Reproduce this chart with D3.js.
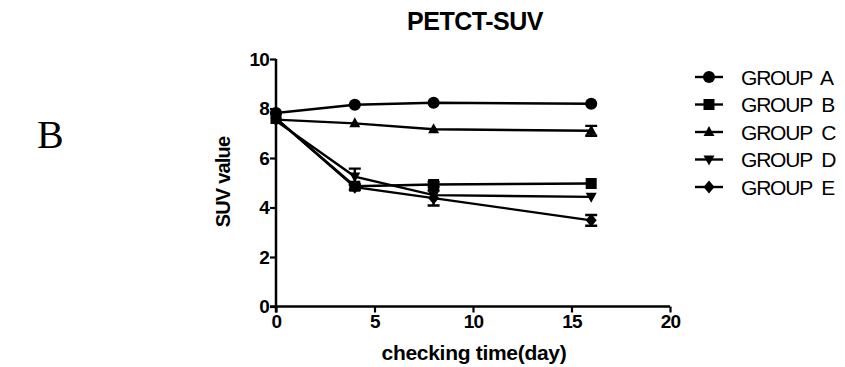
<!DOCTYPE html>
<html>
<head>
<meta charset="utf-8">
<script src="https://cdn.jsdelivr.net/npm/d3@7"></script>
<style>
  body { margin: 0; background: #fff; }
  text { font-family: "Liberation Sans", Arial, sans-serif; fill: #000; }
</style>
</head>
<body>
<script>
// data
var days = [0, 4, 8, 16];
var groups = ["GROUP A", "GROUP B", "GROUP C", "GROUP D", "GROUP E"];
var meanA = [7.82, 8.15, 8.23, 8.19];
var meanB = [7.6, 4.86, 4.93, 4.97];
var meanC = [7.55, 7.4, 7.16, 7.1];
var meanD = [7.5, 5.25, 4.5, 4.43];
var meanE = [7.6, 4.82, 4.38, 3.48];
var errA = [0.05, 0.05, 0.05, 0.05];
var errB = [0.05, 0.08, 0.1, 0.08];
var errC = [0.05, 0.05, 0.05, 0.2];
var errD = [0.05, 0.32, 0.08, 0.05];
var errE = [0.05, 0.1, 0.3, 0.22];
var xTicks = [0, 5, 10, 15, 20];
var yTicks = [0, 2, 4, 6, 8, 10];

var seriesList = [
  {name: groups[0], mean: meanA, err: errA, sym: "circle"},
  {name: groups[1], mean: meanB, err: errB, sym: "square"},
  {name: groups[2], mean: meanC, err: errC, sym: "up"},
  {name: groups[3], mean: meanD, err: errD, sym: "down"},
  {name: groups[4], mean: meanE, err: errE, sym: "diamond"}
];

var width = 845, height = 367;

var svg = d3.select("body").append("svg")
    .attr("width", width)
    .attr("height", height);

var x = d3.scaleLinear().domain([0, 20]).range([276, 670]);
var y = d3.scaleLinear().domain([0, 10]).range([306.5, 59]);

// marker shapes
function markerPath(sym){
  if (sym == "circle") return d3.symbol().type(d3.symbolCircle).size(115)();
  if (sym == "square") return "M-5.5,-5.5H5.5V5.5H-5.5Z";
  if (sym == "diamond") return "M0,-6.5L5.5,0L0,6.5L-5.5,0Z";
  if (sym == "up") return "M0,-6L5.5,4L-5.5,4Z";
  if (sym == "down") return "M0,6L5.5,-4L-5.5,-4Z";
}

// panel letter
svg.append("text")
  .attr("x", 37).attr("y", 148)
  .style("font-family", "'Liberation Serif', 'DejaVu Serif', serif")
  .style("font-size", "40px")
  .text("B");

// title
svg.append("text")
  .attr("x", 475).attr("y", 30)
  .attr("text-anchor", "middle")
  .style("font-size", "25px")
  .style("font-weight", "bold")
  .style("letter-spacing", "-0.5px")
  .text("PETCT-SUV");

// axes
var xAxis = svg.append("g")
  .attr("transform", "translate(0," + y(0) + ")")
  .call(d3.axisBottom(x).tickValues(xTicks).tickSize(6).tickPadding(2));

var yAxis = svg.append("g")
  .attr("transform", "translate(" + x(0) + ",0)")
  .call(d3.axisLeft(y).tickValues(yTicks).tickSize(6).tickPadding(1));

[xAxis, yAxis].forEach(function(a){
  a.select(".domain").attr("stroke", "#000").attr("stroke-width", 2.5);
  a.selectAll(".tick line").attr("stroke", "#000").attr("stroke-width", 2.2);
  a.selectAll(".tick text")
    .style("font-size", "19px")
    .style("font-weight", "bold")
    .style("letter-spacing", "-0.8px")
    .style("font-family", "'Liberation Sans', Arial, sans-serif");
});
xAxis.select(".domain").attr("d", "M" + (x(0) - 6) + ",0H" + x(20));
yAxis.select(".domain").attr("d", "M0," + y(10) + "V" + (y(0) + 6));

// axis titles
svg.append("text")
  .attr("x", 474).attr("y", 360)
  .attr("text-anchor", "middle")
  .style("font-size", "21px")
  .style("font-weight", "bold")
  .style("letter-spacing", "-0.3px")
  .text("checking time(day)");

svg.append("text")
  .attr("transform", "translate(230,182) rotate(-90)")
  .attr("text-anchor", "middle")
  .style("font-size", "20px")
  .style("font-weight", "bold")
  .style("letter-spacing", "-0.8px")
  .text("SUV value");

// lines, error bars, markers
var line = d3.line()
  .x(function(d, i){ return x(days[i]); })
  .y(function(d){ return y(d); });

seriesList.forEach(function(s){
  var g = svg.append("g");
  g.append("path")
    .datum(s.mean)
    .attr("d", line)
    .attr("fill", "none")
    .attr("stroke", "#000")
    .attr("stroke-width", 2.4);

  s.mean.forEach(function(m, i){
    var e = s.err[i];
    if (e > 0.08) {
      var cx = x(days[i]);
      g.append("path")
        .attr("d", "M" + cx + "," + y(m - e) + "V" + y(m + e) +
              "M" + (cx - 6) + "," + y(m + e) + "H" + (cx + 6) +
              "M" + (cx - 6) + "," + y(m - e) + "H" + (cx + 6))
        .attr("stroke", "#000")
        .attr("stroke-width", 2.4)
        .attr("fill", "none");
    }
  });

  g.selectAll(".pt")
    .data(s.mean)
    .enter()
    .append("path")
    .attr("class", "pt")
    .attr("transform", function(d, i){ return "translate(" + x(days[i]) + "," + y(d) + ")"; })
    .attr("d", markerPath(s.sym))
    .attr("fill", "#000");
});

// legend
var legend = svg.append("g");
seriesList.forEach(function(s, i){
  var ly = 77 + i * 27.5;
  legend.append("line")
    .attr("x1", 695).attr("x2", 723)
    .attr("y1", ly).attr("y2", ly)
    .attr("stroke", "#000").attr("stroke-width", 2.4);
  legend.append("path")
    .attr("transform", "translate(709," + ly + ")")
    .attr("d", markerPath(s.sym))
    .attr("fill", "#000");
  legend.append("text")
    .attr("x", 741).attr("y", ly + 7.5)
    .style("font-size", "21px")
    .style("letter-spacing", "-1.2px")
    .style("word-spacing", "5px")
    .text(s.name);
});
</script>
</body>
</html>
